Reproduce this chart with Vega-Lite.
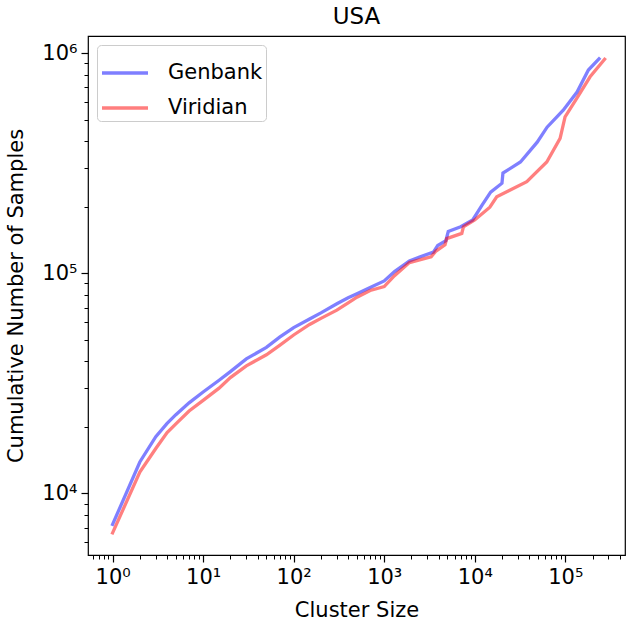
{
  "$schema": "https://vega.github.io/schema/vega-lite/v6.json",
  "width": 537,
  "height": 519,
  "autosize": "none",
  "padding": {"left": 88, "top": 36, "right": 5, "bottom": 70},
  "background": "white",
  "config": {
    "font": "DejaVu Sans",
    "view": {"stroke": "black", "strokeWidth": 1.2},
    "axis": {"grid": false, "domain": false, "tickColor": "black", "labelColor": "black", "titleColor": "black", "labelFont": "DejaVu Sans", "titleFont": "DejaVu Sans", "titleFontWeight": "normal"}
  },
  "title": {"text": "USA", "fontSize": 23, "fontWeight": "normal", "font": "DejaVu Sans", "offset": 7, "color": "black"},
  "data": {
    "values": [
      {"series": "Genbank", "size": 1, "count": 7230},
      {"series": "Genbank", "size": 2, "count": 13900},
      {"series": "Genbank", "size": 3, "count": 18100},
      {"series": "Genbank", "size": 4, "count": 20800},
      {"series": "Genbank", "size": 5, "count": 22800},
      {"series": "Genbank", "size": 7, "count": 25800},
      {"series": "Genbank", "size": 10, "count": 28900},
      {"series": "Genbank", "size": 15, "count": 32700},
      {"series": "Genbank", "size": 20, "count": 35800},
      {"series": "Genbank", "size": 30, "count": 40900},
      {"series": "Genbank", "size": 50, "count": 46100},
      {"series": "Genbank", "size": 70, "count": 51300},
      {"series": "Genbank", "size": 100, "count": 56700},
      {"series": "Genbank", "size": 150, "count": 62100},
      {"series": "Genbank", "size": 200, "count": 66200},
      {"series": "Genbank", "size": 300, "count": 72800},
      {"series": "Genbank", "size": 400, "count": 77500},
      {"series": "Genbank", "size": 500, "count": 80900},
      {"series": "Genbank", "size": 700, "count": 86300},
      {"series": "Genbank", "size": 1000, "count": 92500},
      {"series": "Genbank", "size": 1300, "count": 102000},
      {"series": "Genbank", "size": 1900, "count": 114000},
      {"series": "Genbank", "size": 2500, "count": 119000},
      {"series": "Genbank", "size": 3500, "count": 125000},
      {"series": "Genbank", "size": 3900, "count": 134000},
      {"series": "Genbank", "size": 4800, "count": 141000},
      {"series": "Genbank", "size": 5100, "count": 155000},
      {"series": "Genbank", "size": 7000, "count": 163000},
      {"series": "Genbank", "size": 9500, "count": 175000},
      {"series": "Genbank", "size": 12000, "count": 204000},
      {"series": "Genbank", "size": 15000, "count": 234000},
      {"series": "Genbank", "size": 20000, "count": 257000},
      {"series": "Genbank", "size": 20500, "count": 286000},
      {"series": "Genbank", "size": 32000, "count": 321000},
      {"series": "Genbank", "size": 49000, "count": 395000},
      {"series": "Genbank", "size": 63000, "count": 462000},
      {"series": "Genbank", "size": 95000, "count": 552000},
      {"series": "Genbank", "size": 135000, "count": 667000},
      {"series": "Genbank", "size": 180000, "count": 840000},
      {"series": "Genbank", "size": 236000, "count": 944000},
      {"series": "Viridian", "size": 1, "count": 6620},
      {"series": "Viridian", "size": 2, "count": 12500},
      {"series": "Viridian", "size": 3, "count": 16000},
      {"series": "Viridian", "size": 4, "count": 18900},
      {"series": "Viridian", "size": 5, "count": 20700},
      {"series": "Viridian", "size": 7, "count": 23700},
      {"series": "Viridian", "size": 10, "count": 26500},
      {"series": "Viridian", "size": 15, "count": 30100},
      {"series": "Viridian", "size": 20, "count": 33600},
      {"series": "Viridian", "size": 30, "count": 38000},
      {"series": "Viridian", "size": 50, "count": 42700},
      {"series": "Viridian", "size": 70, "count": 47100},
      {"series": "Viridian", "size": 100, "count": 52500},
      {"series": "Viridian", "size": 150, "count": 58600},
      {"series": "Viridian", "size": 200, "count": 62500},
      {"series": "Viridian", "size": 300, "count": 68100},
      {"series": "Viridian", "size": 400, "count": 73500},
      {"series": "Viridian", "size": 500, "count": 78000},
      {"series": "Viridian", "size": 700, "count": 83700},
      {"series": "Viridian", "size": 1000, "count": 87100},
      {"series": "Viridian", "size": 1300, "count": 97700},
      {"series": "Viridian", "size": 1900, "count": 112000},
      {"series": "Viridian", "size": 3300, "count": 119000},
      {"series": "Viridian", "size": 3700, "count": 126000},
      {"series": "Viridian", "size": 4700, "count": 135000},
      {"series": "Viridian", "size": 4900, "count": 144000},
      {"series": "Viridian", "size": 7200, "count": 152000},
      {"series": "Viridian", "size": 7500, "count": 163000},
      {"series": "Viridian", "size": 10000, "count": 175000},
      {"series": "Viridian", "size": 14700, "count": 200000},
      {"series": "Viridian", "size": 17500, "count": 223000},
      {"series": "Viridian", "size": 37600, "count": 261000},
      {"series": "Viridian", "size": 62500, "count": 321000},
      {"series": "Viridian", "size": 87700, "count": 411000},
      {"series": "Viridian", "size": 99500, "count": 515000},
      {"series": "Viridian", "size": 134000, "count": 624000},
      {"series": "Viridian", "size": 188000, "count": 783000},
      {"series": "Viridian", "size": 272000, "count": 940000}
    ]
  },
  "mark": {"type": "line", "strokeWidth": 3.3, "strokeOpacity": 0.5, "strokeCap": "square"},
  "encoding": {
    "x": {
      "field": "size", "type": "quantitative",
      "scale": {"type": "log", "domain": [0.535, 457000], "nice": false},
      "axis": {
        "title": "Cluster Size", "titleFontSize": 21, "titlePadding": 12,
        "labelFontSize": 21, "labelPadding": 4,
        "values": [0.6,0.7,0.8,0.9,1,2,3,4,5,6,7,8,9,10,20,30,40,50,60,70,80,90,100,200,300,400,500,600,700,800,900,1000,2000,3000,4000,5000,6000,7000,8000,9000,10000,20000,30000,40000,50000,60000,70000,80000,90000,100000,200000,300000,400000],
        "labelExpr": "abs(log(datum.value)/LN10 - round(log(datum.value)/LN10)) < 0.001 ? '10' + ['⁰','¹','²','³','⁴','⁵','⁶'][round(log(datum.value)/LN10)] : ''",
        "tickSize": {"condition": {"test": "abs(log(datum.value)/LN10 - round(log(datum.value)/LN10)) < 0.001", "value": 7}, "value": 4},
        "tickWidth": {"condition": {"test": "abs(log(datum.value)/LN10 - round(log(datum.value)/LN10)) < 0.001", "value": 1.2}, "value": 1},
        "labelOverlap": false, "labelFlush": false
      }
    },
    "y": {
      "field": "count", "type": "quantitative",
      "scale": {"type": "log", "domain": [5250, 1200000], "nice": false},
      "axis": {
        "title": "Cumulative Number of Samples", "titleFontSize": 21, "titlePadding": 15,
        "labelFontSize": 21, "labelPadding": 4,
        "values": [6000,7000,8000,9000,10000,20000,30000,40000,50000,60000,70000,80000,90000,100000,200000,300000,400000,500000,600000,700000,800000,900000,1000000],
        "labelExpr": "abs(log(datum.value)/LN10 - round(log(datum.value)/LN10)) < 0.001 ? '10' + ['⁰','¹','²','³','⁴','⁵','⁶'][round(log(datum.value)/LN10)] : ''",
        "tickSize": {"condition": {"test": "abs(log(datum.value)/LN10 - round(log(datum.value)/LN10)) < 0.001", "value": 7}, "value": 4},
        "tickWidth": {"condition": {"test": "abs(log(datum.value)/LN10 - round(log(datum.value)/LN10)) < 0.001", "value": 1.2}, "value": 1},
        "labelOverlap": false, "labelFlush": false
      }
    },
    "color": {
      "field": "series", "type": "nominal",
      "scale": {"domain": ["Genbank", "Viridian"], "range": ["blue", "red"]},
      "legend": {
        "title": null, "orient": "top-left", "offset": 9,
        "symbolType": "stroke", "symbolSize": 2116, "symbolStrokeWidth": 3.3, "symbolOpacity": 0.5,
        "labelFontSize": 21, "labelFont": "DejaVu Sans", "labelColor": "black", "labelOffset": 18,
        "rowPadding": -8, "padding": 3,
        "strokeColor": "#cccccc", "cornerRadius": 4, "fillColor": "white"
      }
    }
  }
}
